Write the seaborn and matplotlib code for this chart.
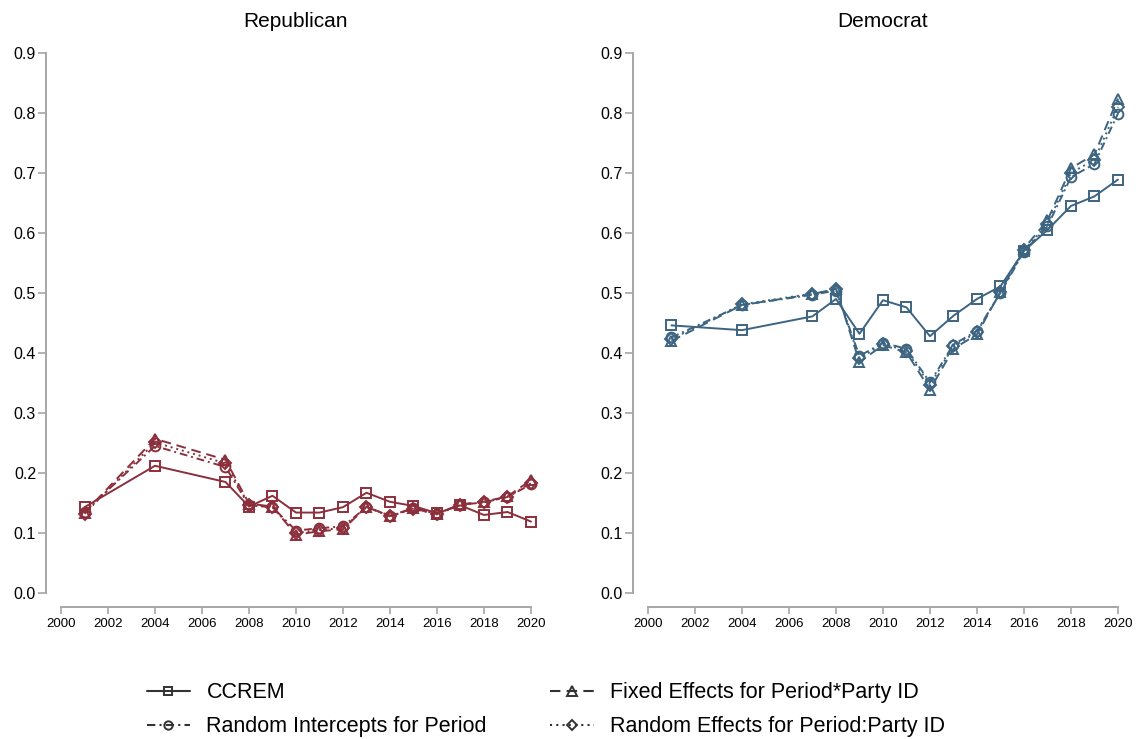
import matplotlib
matplotlib.use("Agg")
import matplotlib.pyplot as plt
from matplotlib.lines import Line2D
import seaborn as sns
import pandas as pd

sns.set_style("white")
plt.rcParams["font.family"] = ["Liberation Sans", "DejaVu Sans"]
plt.rcParams["text.color"] = "black"
plt.rcParams["xtick.color"] = "black"
plt.rcParams["ytick.color"] = "black"

years = [2001, 2004, 2007, 2008, 2009, 2010, 2011, 2012,
         2013, 2014, 2015, 2016, 2017, 2018, 2019, 2020]

models = ["CCREM",
          "Random Intercepts for Period",
          "Fixed Effects for Period*Party ID",
          "Random Effects for Period:Party ID"]

rep_ccrem = [0.143, 0.212, 0.185, 0.144, 0.162, 0.134, 0.134, 0.143,
             0.167, 0.152, 0.145, 0.133, 0.146, 0.130, 0.135, 0.119]
rep_fixed = [0.134, 0.257, 0.222, 0.149, 0.144, 0.097, 0.103, 0.106,
             0.144, 0.128, 0.141, 0.132, 0.148, 0.152, 0.161, 0.188]
rep_randint = [0.135, 0.245, 0.210, 0.146, 0.143, 0.104, 0.108, 0.111,
               0.143, 0.129, 0.141, 0.132, 0.147, 0.151, 0.160, 0.181]
rep_randeff = [0.132, 0.251, 0.216, 0.147, 0.143, 0.100, 0.105, 0.108,
               0.143, 0.128, 0.140, 0.131, 0.147, 0.151, 0.160, 0.183]

dem_ccrem = [0.446, 0.438, 0.461, 0.490, 0.432, 0.488, 0.476, 0.428,
             0.462, 0.490, 0.511, 0.570, 0.605, 0.645, 0.661, 0.689]
dem_fixed = [0.420, 0.480, 0.498, 0.507, 0.385, 0.413, 0.401, 0.339,
             0.407, 0.431, 0.502, 0.574, 0.621, 0.708, 0.731, 0.824]
dem_randint = [0.426, 0.480, 0.497, 0.504, 0.395, 0.417, 0.407, 0.351,
               0.414, 0.437, 0.500, 0.569, 0.611, 0.693, 0.715, 0.799]
dem_randeff = [0.423, 0.481, 0.499, 0.506, 0.391, 0.415, 0.404, 0.347,
               0.411, 0.435, 0.501, 0.571, 0.615, 0.700, 0.722, 0.810]

panels = [
    ("Republican", "#8c2f3c",
     {"CCREM": rep_ccrem,
      "Random Intercepts for Period": rep_randint,
      "Fixed Effects for Period*Party ID": rep_fixed,
      "Random Effects for Period:Party ID": rep_randeff}),
    ("Democrat", "#3d6480",
     {"CCREM": dem_ccrem,
      "Random Intercepts for Period": dem_randint,
      "Fixed Effects for Period*Party ID": dem_fixed,
      "Random Effects for Period:Party ID": dem_randeff}),
]

styles = {
    "CCREM": dict(marker="s", linestyle="-"),
    "Random Intercepts for Period": dict(marker="o", linestyle=(0, (4, 2, 1, 2))),
    "Fixed Effects for Period*Party ID": dict(marker="^", linestyle=(0, (5, 3))),
    "Random Effects for Period:Party ID": dict(marker="D", linestyle=(0, (1, 2))),
}
msize = {"CCREM": 7, "Random Intercepts for Period": 7,
         "Fixed Effects for Period*Party ID": 7.5,
         "Random Effects for Period:Party ID": 6}

fig = plt.figure(figsize=(11.36, 7.39), dpi=100)
axes = [fig.add_axes([0.0537, 0.1976, 0.4137, 0.7307]),
        fig.add_axes([0.5704, 0.1976, 0.4137, 0.7307])]

spine_grey = "#a6a6a6"
draw_order = ["Fixed Effects for Period*Party ID",
              "Random Intercepts for Period",
              "Random Effects for Period:Party ID",
              "CCREM"]

for ax, (title, color, series) in zip(axes, panels):
    for name in draw_order:
        df = pd.DataFrame({"year": years, "value": series[name]})
        st = styles[name]
        sns.lineplot(data=df, x="year", y="value", ax=ax, color=color,
                     linewidth=1.4, linestyle=st["linestyle"],
                     marker=st["marker"], markersize=msize[name],
                     markerfacecolor="none", markeredgecolor=color,
                     markeredgewidth=1.4, clip_on=False)
    ax.set_xlim(2000, 2020)
    ax.set_ylim(0, 0.9)
    ax.set_xticks(range(2000, 2021, 2))
    ax.set_yticks([i / 10 for i in range(10)])
    ax.set_yticklabels([f"{i / 10:.1f}" for i in range(10)])
    ax.set_xlabel("")
    ax.set_ylabel("")
    ax.set_title(title, fontsize=15, pad=19, color="black")
    for s in ["top", "right"]:
        ax.spines[s].set_visible(False)
    ax.spines["left"].set_position(("outward", 11))
    ax.spines["bottom"].set_position(("outward", 10))
    for s in ["left", "bottom"]:
        ax.spines[s].set_color(spine_grey)
        ax.spines[s].set_linewidth(1.4)
    ax.tick_params(axis="y", which="major", left=True, direction="out",
                   length=5.5, width=1.2, color=spine_grey, labelsize=11.5,
                   pad=1.5, labelcolor="black")
    ax.tick_params(axis="x", which="major", bottom=True, direction="out",
                   length=5, width=1.2, color=spine_grey, labelsize=9.5,
                   pad=3, labelcolor="black")
    ax.grid(False)
    if ax.get_legend() is not None:
        ax.get_legend().remove()

handles = []
for name in models:
    st = styles[name]
    handles.append(Line2D([], [], color="#333333", linewidth=1.5,
                          linestyle=st["linestyle"], marker=st["marker"],
                          markersize=msize[name] - 1, markerfacecolor="none",
                          markeredgecolor="#333333", markeredgewidth=1.4))

fig.legend(handles, models, loc="upper center", ncol=2, frameon=False,
           fontsize=15.5, handlelength=2.0, columnspacing=2.95,
           bbox_to_anchor=(0.4806, 0.1), labelspacing=0.6,
           handletextpad=0.78, borderpad=0.3)

fig.savefig("out.png", dpi=100)
